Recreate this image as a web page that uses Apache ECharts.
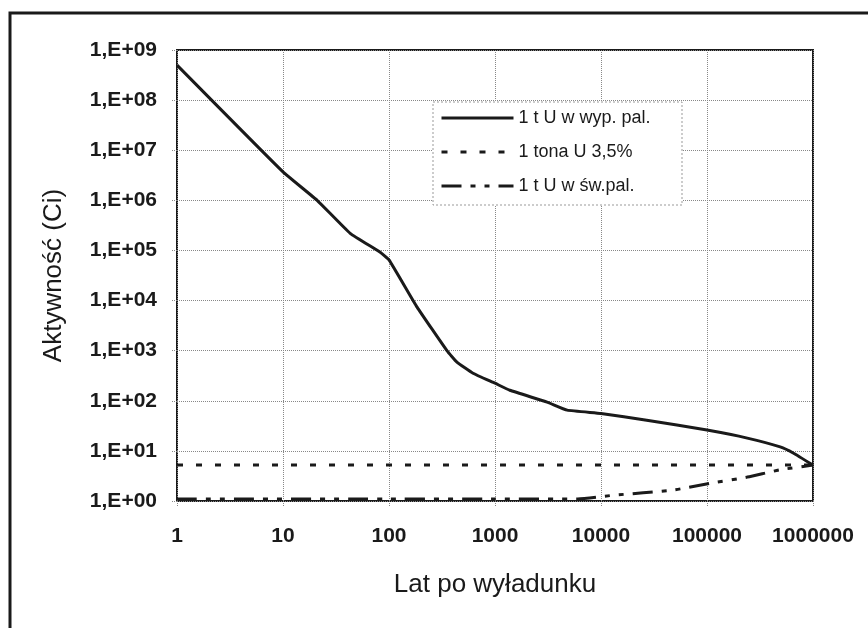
<!DOCTYPE html>
<html>
<head>
<meta charset="utf-8">
<script src="https://cdn.jsdelivr.net/npm/echarts@6/dist/echarts.min.js"></script>
<style>html,body{margin:0;padding:0;background:#fff}#c{width:868px;height:628px}</style>
</head>
<body>
<div id="c"></div>
<script>
// Tick labels
const xTickLabels = ['1', '10', '100', '1000', '10000', '100000', '1000000'];
const yTickLabels = ['1,E+00', '1,E+01', '1,E+02', '1,E+03', '1,E+04', '1,E+05', '1,E+06', '1,E+07', '1,E+08', '1,E+09'];

// Series names
const seriesNames = ['1 t U w wyp. pal.', '1 tona U 3,5%', '1 t U w św.pal.'];

// 1 t U in spent fuel
const spentYears = [1, 10, 21, 43, 82, 100, 184, 352, 437, 620, 1000, 1380, 3100, 4800, 10000, 27000, 100000, 240000, 490000, 650000, 1000000];
const spentActivity = [5.0e8, 3.7e6, 1.0e6, 2.2e5, 9.3e4, 6.5e4, 7.4e3, 1.0e3, 590, 355, 224, 162, 94, 65, 56, 41, 26, 18, 12, 9.1, 5.2];

// 1 tonne U 3.5%
const uraniumYears = [1, 1000000];
const uraniumActivity = [5.2, 5.2];

// 1 t U in fresh fuel
const freshYears = [1, 100, 1000, 6000, 13000, 48000, 114000, 240000, 490000, 1000000];
const freshActivity = [1.1, 1.1, 1.1, 1.1, 1.3, 1.66, 2.3, 3.0, 4.2, 5.2];

function pairs(xs, ys) { return xs.map((x, i) => [x, ys[i]]); }
function idx(v) { return Math.round(Math.log10(v)); }

const FONT = 'Liberation Sans, Arial, sans-serif';
const chart = echarts.init(document.getElementById('c'), null, { renderer: 'canvas' });
chart.setOption({
  backgroundColor: '#ffffff',
  animation: false,
  grid: { left: 177, right: 55, top: 50, bottom: 127, show: true, borderColor: '#1a1a1a', borderWidth: 2, backgroundColor: 'transparent' },
  xAxis: {
    type: 'log', logBase: 10, min: 1, max: 1000000,
    name: 'Lat po wyładunku', nameLocation: 'middle', nameGap: 71,
    nameTextStyle: { fontFamily: FONT, fontSize: 26, color: '#1a1a1a' },
    axisLine: { show: false },
    axisTick: { show: true, length: 6, lineStyle: { color: '#888', type: 'dotted' } },
    minorTick: { show: false },
    splitLine: { show: true, lineStyle: { color: '#888', type: 'dotted', width: 1 } },
    axisLabel: { margin: 25, fontFamily: FONT, fontSize: 21, fontWeight: 'bold', color: '#1a1a1a',
      formatter: v => xTickLabels[idx(v)] }
  },
  yAxis: {
    type: 'log', logBase: 10, min: 1, max: 1000000000,
    name: 'Aktywność (Ci)', nameLocation: 'middle', nameGap: 110, nameRotate: 90,
    nameTextStyle: { fontFamily: FONT, fontSize: 26, color: '#1a1a1a' },
    axisLine: { show: false },
    axisTick: { show: true, length: 6, lineStyle: { color: '#888', type: 'dotted' } },
    splitLine: { show: true, lineStyle: { color: '#888', type: 'dotted', width: 1 } },
    axisLabel: { margin: 20, fontFamily: FONT, fontSize: 21, fontWeight: 'bold', color: '#1a1a1a',
      formatter: v => yTickLabels[idx(v)] }
  },
  legend: {
    show: true, orient: 'vertical', left: 440, top: 108, padding: 0, z: 10,
    itemWidth: 72, itemHeight: 14, itemGap: 14,
    itemStyle: { opacity: 0 },
    lineStyle: { width: 3 },
    textStyle: { fontFamily: FONT, fontSize: 18, color: '#1a1a1a', lineHeight: 20 },
    data: seriesNames
  },
  graphic: [
    { type: 'rect', z: -1, shape: { x: 10, y: 13, width: 880, height: 640 }, style: { fill: 'none', stroke: '#1a1a1a', lineWidth: 3 } },
    { type: 'rect', z: 8, shape: { x: 433, y: 102, width: 249, height: 103 }, style: { fill: '#ffffff', stroke: '#999', lineWidth: 1, lineDash: [2, 2] } }
  ],
  series: [
    { name: seriesNames[0], type: 'line', data: pairs(spentYears, spentActivity), symbol: 'none', showSymbol: false, smooth: 0.12,
      lineStyle: { color: '#1a1a1a', width: 3, type: 'solid' }, itemStyle: { color: '#1a1a1a' }, z: 3 },
    { name: seriesNames[1], type: 'line', data: pairs(uraniumYears, uraniumActivity), symbol: 'none', showSymbol: false,
      lineStyle: { color: '#1a1a1a', width: 3, type: [6, 13] }, itemStyle: { color: '#1a1a1a' }, z: 3 },
    { name: seriesNames[2], type: 'line', data: pairs(freshYears, freshActivity), symbol: 'none', showSymbol: false, smooth: 0.2,
      lineStyle: { color: '#1a1a1a', width: 3, type: [20, 9, 5, 9, 5, 9] }, itemStyle: { color: '#1a1a1a' }, z: 3 }
  ]
});
</script>
</body>
</html>
